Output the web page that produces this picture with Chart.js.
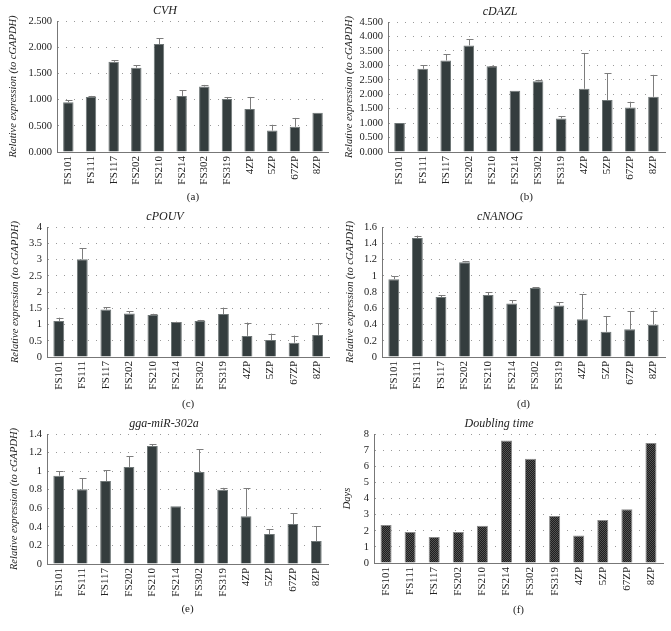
<!DOCTYPE html>
<html>
<head>
<meta charset="utf-8">
<script src="https://cdn.jsdelivr.net/npm/chart.js@4.4.0/dist/chart.umd.min.js"></script>
<style>
    body { margin: 0; background: #fff; }
    #page { position: relative; width: 671px; height: 631px; }
    canvas { position: absolute; }
</style>
</head>
<body>
<div id="page">
    <canvas id="cvh" width="335" height="205" style="left:0;top:0"></canvas>
    <canvas id="dazl" width="336" height="205" style="left:335px;top:0"></canvas>
    <canvas id="pouv" width="335" height="210" style="left:0;top:205px"></canvas>
    <canvas id="nanog" width="336" height="210" style="left:335px;top:205px"></canvas>
    <canvas id="mir" width="335" height="216" style="left:0;top:415px"></canvas>
    <canvas id="doubling" width="336" height="216" style="left:335px;top:415px"></canvas>
</div>
<script>
const samples = ['FS101', 'FS111', 'FS117', 'FS202', 'FS210', 'FS214', 'FS302', 'FS319', '4ZP', '5ZP', '67ZP', '8ZP'];

// relative expression (to cGAPDH) and upper error (SD)
const cvhValues = [0.95, 1.05, 1.72, 1.61, 2.06, 1.07, 1.25, 1.01, 0.82, 0.41, 0.48, 0.75];
const cvhErrors = [0.04, 0.02, 0.03, 0.05, 0.11, 0.11, 0.03, 0.04, 0.23, 0.11, 0.17, 0];

const dazlValues = [1.00, 2.88, 3.17, 3.69, 2.97, 2.12, 2.45, 1.16, 2.19, 1.80, 1.54, 1.91];
const dazlErrors = [0, 0.12, 0.22, 0.22, 0.02, 0, 0.05, 0.07, 1.23, 0.93, 0.20, 0.76];

const pouvValues = [1.11, 3.01, 1.46, 1.34, 1.29, 1.08, 1.11, 1.32, 0.65, 0.52, 0.44, 0.68];
const pouvErrors = [0.10, 0.34, 0.07, 0.06, 0.04, 0.01, 0.03, 0.20, 0.41, 0.20, 0.22, 0.36];

const nanogValues = [0.957, 1.464, 0.738, 1.167, 0.763, 0.66, 0.85, 0.635, 0.466, 0.31, 0.342, 0.40];
const nanogErrors = [0.04, 0.03, 0.02, 0.015, 0.035, 0.04, 0.01, 0.04, 0.305, 0.195, 0.22, 0.17];

const mirValues = [0.951, 0.804, 0.894, 1.045, 1.271, 0.621, 0.991, 0.80, 0.513, 0.323, 0.431, 0.248];
const mirErrors = [0.05, 0.12, 0.115, 0.115, 0.02, 0, 0.245, 0.02, 0.305, 0.05, 0.115, 0.158];

// doubling time in days
const doublingDays = [2.35, 1.92, 1.61, 1.92, 2.31, 7.59, 6.47, 2.91, 1.71, 2.66, 3.34, 7.44];

const FONT = "'Liberation Serif', 'DejaVu Serif', serif";
const BAR_COLOR = '#343d3e';

// upper error bars, drawn through the y scale
const errorBars = {
    id: 'errorBars',
    afterDatasetsDraw(chart, args, opts) {
        if (!opts.errors) return;
        const ctx = chart.ctx;
        const yScale = chart.scales.y;
        const meta = chart.getDatasetMeta(0);
        const values = chart.data.datasets[0].data;
        ctx.save();
        ctx.strokeStyle = '#7d7d7d';
        ctx.lineWidth = 1;
        meta.data.forEach((bar, i) => {
            const err = opts.errors[i];
            if (!err) return;
            const yTop = yScale.getPixelForValue(values[i] + err);
            const x = Math.round(bar.x) + 0.5;
            ctx.beginPath();
            ctx.moveTo(x, bar.y);
            ctx.lineTo(x, yTop);
            ctx.moveTo(x - 3, Math.round(yTop) + 0.5);
            ctx.lineTo(x + 4, Math.round(yTop) + 0.5);
            ctx.stroke();
        });
        ctx.restore();
    }
};

function dotPattern() {
    const c = document.createElement('canvas');
    c.width = 2; c.height = 2;
    const g = c.getContext('2d');
    g.fillStyle = '#1f1f1f';
    g.fillRect(0, 0, 2, 2);
    g.fillStyle = '#525252';
    g.fillRect(0, 0, 1, 1);
    g.fillRect(1, 1, 1, 1);
    return g.createPattern(c, 'repeat');
}

function makePanel(id, p) {
    const ctx = document.getElementById(id);
    new Chart(ctx, {
        type: 'bar',
        data: {
            labels: samples,
            datasets: [{
                data: p.values,
                backgroundColor: p.fill || BAR_COLOR,
                borderColor: p.edge || '#6f7777',
                borderWidth: 1,
                barPercentage: 0.46,
                categoryPercentage: 1
            }]
        },
        options: {
            responsive: false,
            animation: false,
            layout: { padding: { top: p.padTop, right: p.padRight, left: 0, bottom: 0 } },
            plugins: {
                legend: { display: false },
                tooltip: { enabled: false },
                title: {
                    display: true,
                    text: p.title,
                    color: '#222',
                    font: { family: FONT, size: 12, style: 'italic', weight: 'normal' },
                    padding: { top: 0, bottom: 3 }
                },
                errorBars: { errors: p.errors }
            },
            scales: {
                x: {
                    grid: { display: false, drawTicks: false },
                    border: { display: true, color: '#777', width: 1 },
                    ticks: {
                        color: '#222',
                        font: { family: FONT, size: 11 },
                        maxRotation: 90, minRotation: 90,
                        autoSkip: false,
                        padding: 4
                    },
                    title: {
                        display: true,
                        text: p.letter,
                        color: '#222',
                        font: { family: FONT, size: 11 },
                        padding: { top: 0, bottom: p.letterPad }
                    },
                    afterFit(scale) { scale.height = p.xHeight; }
                },
                y: {
                    min: 0,
                    max: p.yMax,
                    grid: { color: '#9a9a9a', lineWidth: 1, drawTicks: false },
                    border: { display: true, color: '#777', width: 1, dash: [1, 7] },
                    ticks: {
                        stepSize: p.yStep,
                        autoSkip: false,
                        color: '#222',
                        font: { family: FONT, size: 10.5 },
                        padding: 5,
                        callback: p.yFormat
                    },
                    title: {
                        display: true,
                        text: p.yTitle,
                        color: '#222',
                        font: { family: FONT, size: 10.5, style: 'italic' },
                        padding: { top: p.yTitlePad, bottom: 0 }
                    },
                    afterFit(scale) { scale.width = p.yWidth; }
                }
            }
        },
        plugins: [errorBars]
    });
}

const relTitle = 'Relative expression (to cGAPDH)';
const threeDec = v => v.toFixed(3);
const plain = v => String(Math.round(v * 10) / 10);

makePanel('cvh', {
    values: cvhValues, errors: cvhErrors, title: 'CVH', letter: '(a)',
    yMax: 2.5, yStep: 0.5, yFormat: threeDec, yTitle: relTitle,
    padTop: 3.6, padRight: 5, yWidth: 57, xHeight: 53, letterPad: 1.4, yTitlePad: 7
});
makePanel('dazl', {
    values: dazlValues, errors: dazlErrors, title: 'cDAZL', letter: '(b)',
    yMax: 4.5, yStep: 0.5, yFormat: threeDec, yTitle: relTitle,
    padTop: 4.6, padRight: 6, yWidth: 53, xHeight: 53, letterPad: 1.4, yTitlePad: 7.6
});
makePanel('pouv', {
    values: pouvValues, errors: pouvErrors, title: 'cPOUV', letter: '(c)',
    yMax: 4, yStep: 0.5, yFormat: plain, yTitle: relTitle,
    padTop: 4.6, padRight: 5, yWidth: 47, xHeight: 58, letterPad: 4.4, yTitlePad: 8.6
});
makePanel('nanog', {
    values: nanogValues, errors: nanogErrors, title: 'cNANOG', letter: '(d)',
    yMax: 1.6, yStep: 0.2, yFormat: plain, yTitle: relTitle,
    padTop: 4.6, padRight: 6, yWidth: 47, xHeight: 58, letterPad: 4.4, yTitlePad: 8.6
});
makePanel('mir', {
    values: mirValues, errors: mirErrors, title: 'gga-miR-302a', letter: '(e)',
    yMax: 1.4, yStep: 0.2, yFormat: plain, yTitle: relTitle,
    padTop: 1.6, padRight: 7, yWidth: 47, xHeight: 67, letterPad: 15.4, yTitlePad: 7.6
});
makePanel('doubling', {
    values: doublingDays, errors: null, title: 'Doubling time', letter: '(f)',
    yMax: 8, yStep: 1, yFormat: plain, yTitle: 'Days',
    fill: dotPattern(), edge: '#8a8a8a',
    padTop: 1.6, padRight: 8, yWidth: 39, xHeight: 68, letterPad: 14.4, yTitlePad: 5.6
});
</script>
</body>
</html>
